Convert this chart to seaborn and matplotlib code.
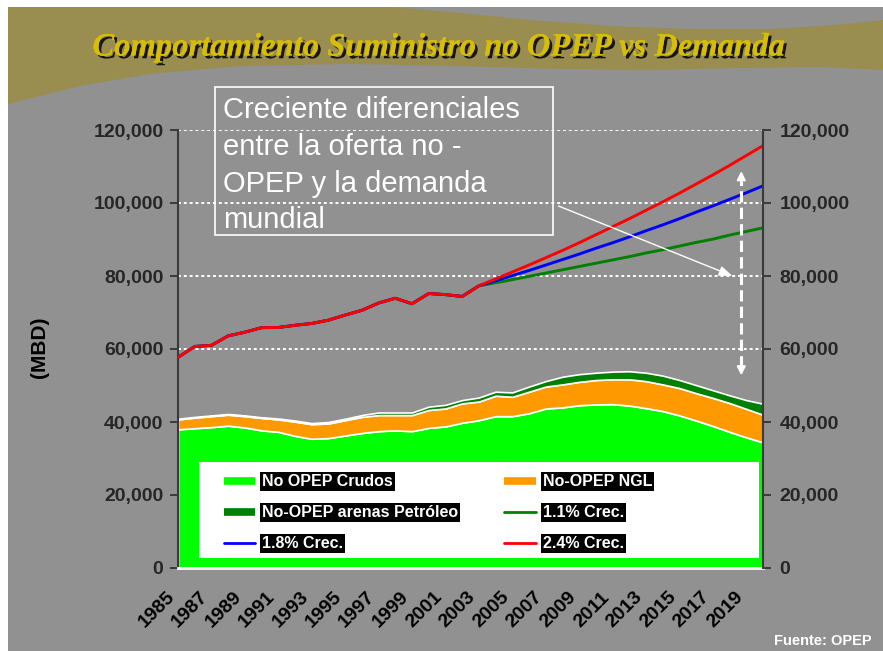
import numpy as np
import pandas as pd
import matplotlib
matplotlib.use("Agg")
import matplotlib.pyplot as plt
import matplotlib.patheffects as pe
import matplotlib.transforms as mtransforms
from matplotlib.patches import Rectangle, Polygon
from matplotlib.lines import Line2D
from matplotlib.ticker import FuncFormatter
import seaborn as sns

# datos (MBD)
years = list(range(1985, 2021))
crudos = [38000, 38300, 38600, 39000, 38500, 37700, 37300, 36200, 35400, 35600,
          36300, 37000, 37500, 37700, 37500, 38400, 38800, 39800, 40500, 41600,
          41600, 42400, 43700, 44000, 44600, 44800, 44900, 44500, 43800, 43000,
          41800, 40400, 38900, 37300, 35800, 34400]
ngl = [2700, 2900, 3000, 3000, 3100, 3400, 3400, 3900, 4000, 4000,
       4200, 4400, 4400, 4200, 4400, 4900, 4900, 5300, 5100, 5600,
       5300, 5900, 6000, 6300, 6400, 6700, 6800, 7200, 7400, 7300,
       7500, 7500, 7700, 7900, 7800, 7600]
arenas = [200, 200, 200, 200, 200, 200, 250, 300, 300, 400,
          400, 500, 700, 700, 700, 900, 1000, 900, 1100, 1100,
          1200, 1400, 1500, 2100, 2100, 2000, 2100, 2200, 2300, 2400,
          2200, 2200, 2100, 2100, 2400, 3000]

# demanda historica 1985-2003 (comun a las tres series)
demanda_hist = [57700, 60700, 61000, 63600, 64600, 65850, 65900, 66500, 67000, 67900,
                69300, 70600, 72600, 73900, 72400, 75200, 74900, 74400, 77300]
# proyecciones 2004-2020
crec_11 = [78150, 79000, 79900, 80800, 81700, 82600, 83500, 84400, 85300,
           86300, 87200, 88200, 89200, 90100, 91200, 92200, 93200]
crec_18 = [78700, 80100, 81500, 83000, 84500, 86000, 87600, 89100, 90700,
           92400, 94000, 95700, 97500, 99200, 101000, 102800, 104700]
crec_24 = [79200, 81100, 83000, 85000, 87000, 89100, 91300, 93500, 95700,
           98000, 100300, 102700, 105200, 107700, 110300, 113000, 115700]

area_labels = ["No OPEP Crudos", "No-OPEP NGL", "No-OPEP arenas Petróleo"]
area_colors = ["#00ff00", "#ff9900", "#008000"]
line_labels = ["1.1% Crec.", "1.8% Crec.", "2.4% Crec."]
line_colors = ["#008000", "#0000ff", "#ff0000"]
year_ticklabels = [str(y) for y in range(1985, 2020, 2)]

sns.set_style("white")
plt.rcParams["font.family"] = ["Liberation Sans", "DejaVu Sans"]

W, H = 883, 651
fig = plt.figure(figsize=(W / 100, H / 100), dpi=100, facecolor="white")

# fondo: degradado gris + franja oliva
bg = fig.add_axes([0, 0, 1, 1])
bg.set_xlim(0, W)
bg.set_ylim(H, 0)
bg.axis("off")
grad = np.interp(np.linspace(0, 1, 300), [0, 0.15, 0.7, 1.0], [0.57, 0.56, 0.51, 0.55])
bg.imshow(np.dstack([grad, grad, grad])[:, :1, :].repeat(2, axis=1),
          extent=[8, W, H, 7], aspect="auto", zorder=0)
olive = [(8, 7), (390, 7), (460, 13), (530, 20), (610, 26), (690, 29), (770, 29),
         (835, 25), (883, 20), (883, 70), (820, 67), (740, 68), (650, 70), (560, 69),
         (460, 66), (350, 64), (240, 66), (150, 74), (80, 86), (8, 104)]
bg.add_patch(Polygon(olive, closed=True, facecolor="#998d50", edgecolor="none", zorder=1))

ax = fig.add_axes([178 / W, 1 - 568 / H, 585 / W, 438 / H])
ax.set_facecolor("none")

ax.stackplot(years, crudos, ngl, arenas, colors=area_colors,
             edgecolor="white", linewidth=1.2, zorder=2)

rows = []
for lab, proj in zip(line_labels, [crec_11, crec_18, crec_24]):
    vals = demanda_hist + proj
    for yr, v in zip(years, vals):
        rows.append({"year": yr, "mbd": v, "serie": lab})
df_lines = pd.DataFrame(rows)
sns.lineplot(data=df_lines, x="year", y="mbd", hue="serie", hue_order=line_labels,
             palette=line_colors, linewidth=2.1, legend=False, ax=ax, zorder=3)

ax.set_xlim(1985, 2020)
ax.set_ylim(0, 120000)
ax.set_xlabel("")
ax.set_ylabel("")

fmt = FuncFormatter(lambda v, p: f"{v:,.0f}")
ax.set_yticks(range(0, 120001, 20000))
ax.yaxis.set_major_formatter(fmt)
ax.yaxis.grid(True, color="white", linestyle=(0, (1.5, 1.5)), linewidth=1.4)
for tick_val, gl in zip(ax.get_yticks(), ax.get_ygridlines()):
    if tick_val < 60000:
        gl.set_visible(False)
ax.set_axisbelow(True)

ax.set_xticks(years)
ax.set_xticklabels([str(y) if str(y) in year_ticklabels else "" for y in years],
                   rotation=45, ha="right", rotation_mode="anchor",
                   fontsize=14, fontweight="bold", color="black")
ax.tick_params(axis="x", direction="out", length=5, width=1.2, color="#e8e8e8", pad=12)
shift = mtransforms.ScaledTranslation(-0.12, 0.03, fig.dpi_scale_trans)
for t in ax.get_xticklabels():
    t.set_transform(t.get_transform() + shift)
ax.tick_params(axis="y", direction="out", length=6, width=1.3, color="#333333",
               labelsize=14, pad=4.5)
for t in ax.get_yticklabels():
    t.set_fontweight("bold")

ax.spines["top"].set_visible(False)
ax.spines["right"].set_visible(False)
ax.spines["left"].set_color("#3a3a3a")
ax.spines["left"].set_linewidth(1.5)
ax.spines["bottom"].set_color("white")
ax.spines["bottom"].set_linewidth(2)

ax2 = ax.twinx()
ax2.set_ylim(0, 120000)
ax2.set_yticks(range(0, 120001, 20000))
ax2.yaxis.set_major_formatter(fmt)
ax2.tick_params(axis="y", direction="out", length=6, width=1.3, color="#333333",
                labelsize=14, pad=6)
for t in ax2.get_yticklabels():
    t.set_fontweight("bold")
for s in ["top", "left", "bottom"]:
    ax2.spines[s].set_visible(False)
ax2.spines["right"].set_color("#3a3a3a")
ax2.spines["right"].set_linewidth(1.5)

# leyenda en caja blanca
ax.add_patch(Rectangle((0.0354, 0.0221), 0.9571, 0.2192, transform=ax.transAxes,
                       facecolor="white", edgecolor="none", zorder=4))
h_area = [Line2D([], [], color=c, lw=5.5, solid_capstyle="butt") for c in area_colors]
h_line = [Line2D([], [], color=c, lw=2) for c in line_colors]
handles = [h_area[0], h_area[2], h_line[1], h_area[1], h_line[0], h_line[2]]
labels = [area_labels[0], area_labels[2], line_labels[1],
          area_labels[1], line_labels[0], line_labels[2]]
leg = ax.legend(handles, labels, ncol=2, loc="upper left",
                bbox_to_anchor=(0.078, 0.214), frameon=False, borderpad=0,
                borderaxespad=0, handlelength=1.95, handletextpad=0.45,
                labelspacing=1.0, columnspacing=2.9,
                prop={"size": 11.5, "weight": "bold"})
leg.set_zorder(5)
for t in leg.get_texts():
    t.set_color("white")
    t.set_bbox(dict(facecolor="black", edgecolor="none", pad=1.5))

# flecha discontinua doble
xa = 2018.7
ax.plot([xa, xa], [55000, 106000], color="white", lw=2.2,
        linestyle=(0, (3.7, 1.7)), zorder=6)
ax.annotate("", xy=(xa, 109500), xytext=(xa, 105000),
            arrowprops=dict(arrowstyle="-|>,head_length=0.5,head_width=0.25",
                            color="white", lw=1.5), zorder=6)
ax.annotate("", xy=(xa, 52000), xytext=(xa, 56500),
            arrowprops=dict(arrowstyle="-|>,head_length=0.5,head_width=0.25",
                            color="white", lw=1.5), zorder=6)

# cuadro de texto (transparente)
bg2 = fig.add_axes([0, 0, 1, 1], zorder=10)
bg2.set_xlim(0, W)
bg2.set_ylim(H, 0)
bg2.axis("off")
bg2.add_patch(Rectangle((215, 87), 338, 148, facecolor="none",
                        edgecolor="white", linewidth=1.2))
bg2.text(223, 96, "Creciente diferenciales\nentre la oferta no -\nOPEP y la demanda\nmundial",
         color="white", fontsize=21, ha="left", va="top", linespacing=1.4)
bg2.annotate("", xy=(735, 277), xytext=(556, 205),
             arrowprops=dict(arrowstyle="-|>,head_length=0.8,head_width=0.3",
                             color="white", lw=1.0))

# titulo
fig.text(0.497, 1 - 47 / H, "Comportamiento Suministro no OPEP vs Demanda",
         family="Liberation Serif", style="italic", weight="bold", fontsize=23.5,
         color="#d8be00", ha="center", va="center",
         path_effects=[pe.withSimplePatchShadow(offset=(2, -2), shadow_rgbFace="black",
                                                alpha=0.85), pe.Normal()])

fig.text(40 / W, 1 - 347 / H, "(MBD)", rotation=90, fontsize=15, fontweight="bold",
         ha="center", va="center", color="black")
fig.text(823 / W, 1 - 641 / H, "Fuente: OPEP", fontsize=10.5, fontweight="bold",
         ha="center", va="center", color="white")

fig.savefig("out.png", dpi=100, facecolor="white")
